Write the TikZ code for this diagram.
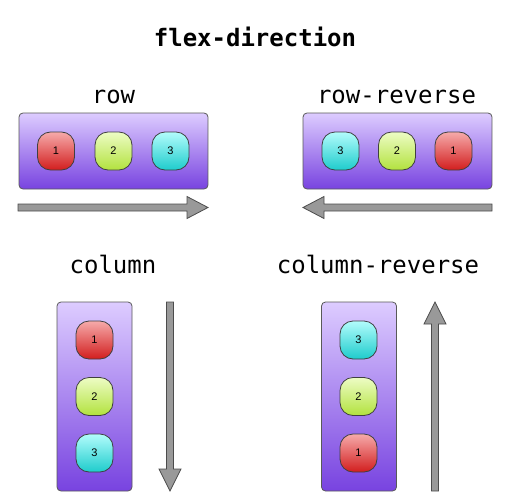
\documentclass[tikz,border=0pt]{standalone}
\usepackage{fontspec}
\setmainfont{Liberation Sans}
\newfontfamily\monofont{DejaVu Sans Mono}
\definecolor{boxtop}{HTML}{DDCCFF}
\definecolor{boxbot}{HTML}{7843E0}
\definecolor{redtop}{HTML}{F6AAAA}
\definecolor{redbot}{HTML}{D21E1E}
\definecolor{greentop}{HTML}{EDFCC4}
\definecolor{greenbot}{HTML}{B2E23E}
\definecolor{cyantop}{HTML}{B2FCFC}
\definecolor{cyanbot}{HTML}{1ECCCC}
\definecolor{arrowgray}{HTML}{999999}
\begin{document}
\begin{tikzpicture}[x=1pt,y=-1pt,
  box/.style={draw=black!65, line width=0.8pt, rounded corners=4pt, top color=boxtop, bottom color=boxbot, inner sep=0pt},
  hbox/.style={box, minimum width=189pt, minimum height=76pt},
  vbox/.style={box, minimum width=75pt, minimum height=189pt},
  item/.style={draw=black!75, line width=0.8pt, rounded corners=13pt, minimum width=37pt, minimum height=38pt, inner sep=0pt, font=\fontsize{11}{13}\selectfont},
  itemred/.style={item, top color=redtop, bottom color=redbot},
  itemgreen/.style={item, top color=greentop, bottom color=greenbot},
  itemcyan/.style={item, top color=cyantop, bottom color=cyanbot},
  lbl/.style={anchor=base, inner sep=0pt, font=\monofont\fontsize{24}{28}\selectfont},
  blockarrow/.style={fill=arrowgray, draw=black!70, line width=0.8pt, line join=miter}
]
\useasboundingbox (0,0) rectangle (510,500);

% title and labels
\node[lbl, font=\monofont\bfseries\fontsize{24}{28}\selectfont] (title) at (255,47) {flex-direction};
\node[lbl] (lrow) at (113.5,103) {row};
\node[lbl] (lrowrev) at (396.5,103) {row-reverse};
\node[lbl] (lcol) at (113,273) {column};
\node[lbl] (lcolrev) at (378,273) {column-reverse};

% containers
\node[hbox] (crow) at (113.5,151) {};
\node[hbox] (crowrev) at (397.5,151) {};
\node[vbox] (ccol) at (94.5,396.5) {};
\node[vbox] (ccolrev) at (359,396.5) {};

% row items
\node[itemred] (r1) at (56,151) {1};
\node[itemgreen] (r2) at (113.5,151) {2};
\node[itemcyan] (r3) at (170.5,151) {3};
% row-reverse items
\node[itemcyan] (rr3) at (340.5,151) {3};
\node[itemgreen] (rr2) at (397,151) {2};
\node[itemred] (rr1) at (453.5,151) {1};
% column items
\node[itemred] (c1) at (94.5,340) {1};
\node[itemgreen] (c2) at (94.5,396.5) {2};
\node[itemcyan] (c3) at (94.5,453) {3};
% column-reverse items
\node[itemcyan] (cr3) at (358.5,340) {3};
\node[itemgreen] (cr2) at (358.5,396.5) {2};
\node[itemred] (cr1) at (358.5,453) {1};

% block arrows
\draw[blockarrow] (18,204) -- (187,204) -- (187,196.5) -- (208,207.5) -- (187,218.5) -- (187,211) -- (18,211) -- cycle;
\draw[blockarrow] (492,204) -- (324,204) -- (324,196.5) -- (303,207.5) -- (324,218.5) -- (324,211) -- (492,211) -- cycle;
\draw[blockarrow] (166.5,302) -- (166.5,469) -- (159,469) -- (170,491) -- (181,469) -- (173.5,469) -- (173.5,302) -- cycle;
\draw[blockarrow] (431.5,491) -- (431.5,324) -- (424,324) -- (435,302) -- (446,324) -- (438.5,324) -- (438.5,491) -- cycle;
\end{tikzpicture}
\end{document}
